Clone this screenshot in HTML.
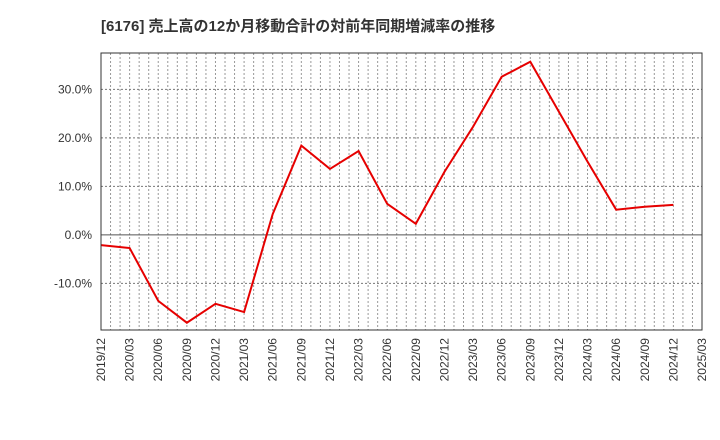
<!DOCTYPE html>
<html><head><meta charset="utf-8">
<style>
body{margin:0;background:#fff;}
svg{display:block;font-family:"Liberation Sans","Noto Sans CJK JP",sans-serif;}
</style></head>
<body>
<svg id="chart" width="720" height="440" xmlns="http://www.w3.org/2000/svg">
<text x="101" y="31" font-size="15" font-weight="bold" fill="#333">[6176]  売上高の12か月移動合計の対前年同期増減率の推移</text>
<g id="grid"></g>
<g id="axes"></g>
<polyline id="line" fill="none" stroke="#e60000" stroke-width="2"/>
<rect x="101" y="53" width="601" height="277" fill="none" stroke="#333" stroke-width="1"/>
</svg>
<script>
const categories=["2019/12","2020/03","2020/06","2020/09","2020/12","2021/03","2021/06","2021/09","2021/12","2022/03","2022/06","2022/09","2022/12","2023/03","2023/06","2023/09","2023/12","2024/03","2024/06","2024/09","2024/12","2025/03"];
const values=[-2.1,-2.7,-13.6,-18.1,-14.2,-15.9,4.3,18.4,13.6,17.3,6.4,2.3,13.0,22.3,32.6,35.7,25.4,15.1,5.2,5.8,6.2];
const yTicks=[-10,0,10,20,30];
const yTickLabels=["-10.0%","0.0%","10.0%","20.0%","30.0%"];
const X0=101,X1=702,Y0=53,Y1=330,yMax=37.5,yMin=-19.6;
const NS="http://www.w3.org/2000/svg";
function xs(i){return X0+(X1-X0)*i/(categories.length-1);}
function ys(v){return Y0+(yMax-v)/(yMax-yMin)*(Y1-Y0);}
const grid=document.getElementById('grid'),axes=document.getElementById('axes');
const nMonths=(categories.length-1)*3;
for(let m=1;m<nMonths;m++){
  const x=X0+(X1-X0)*m/nMonths;
  const l=document.createElementNS(NS,'line');
  
  
  l.setAttribute('x1',x);l.setAttribute('x2',x);l.setAttribute('y1',Y0);l.setAttribute('y2',Y1);
  l.setAttribute('stroke','#999');l.setAttribute('stroke-dasharray','2,2');l.setAttribute('stroke-width','1');
  grid.appendChild(l);
}
yTicks.forEach((t,i)=>{
  const y=ys(t);
  const l=document.createElementNS(NS,'line');
  
  
  l.setAttribute('x1',X0);l.setAttribute('x2',X1);l.setAttribute('y1',y);l.setAttribute('y2',y);
  l.setAttribute('stroke',t===0?'#555':'#777');l.setAttribute('stroke-dasharray',t===0?'none':'2,2');l.setAttribute('stroke-width','1');
  grid.appendChild(l);
  const tx=document.createElementNS(NS,'text');
  
  
  tx.setAttribute('x',92);tx.setAttribute('y',y+4);tx.setAttribute('text-anchor','end');
  tx.setAttribute('font-size','12');tx.setAttribute('fill','#333');
  tx.textContent=yTickLabels[i];
  axes.appendChild(tx);
});
categories.forEach((c,i)=>{
  const x=xs(i);
  const tx=document.createElementNS(NS,'text');
  
  
  tx.setAttribute('x',0);tx.setAttribute('y',0);
  tx.setAttribute('transform','translate('+(x+4)+',338) rotate(-90)');
  tx.setAttribute('text-anchor','end');
  tx.setAttribute('font-size','12');tx.setAttribute('fill','#333');
  tx.textContent=c;
  axes.appendChild(tx);
});
document.getElementById('line').setAttribute('points',values.map((v,i)=>xs(i)+','+ys(v)).join(' '));
</script>
</body></html>
